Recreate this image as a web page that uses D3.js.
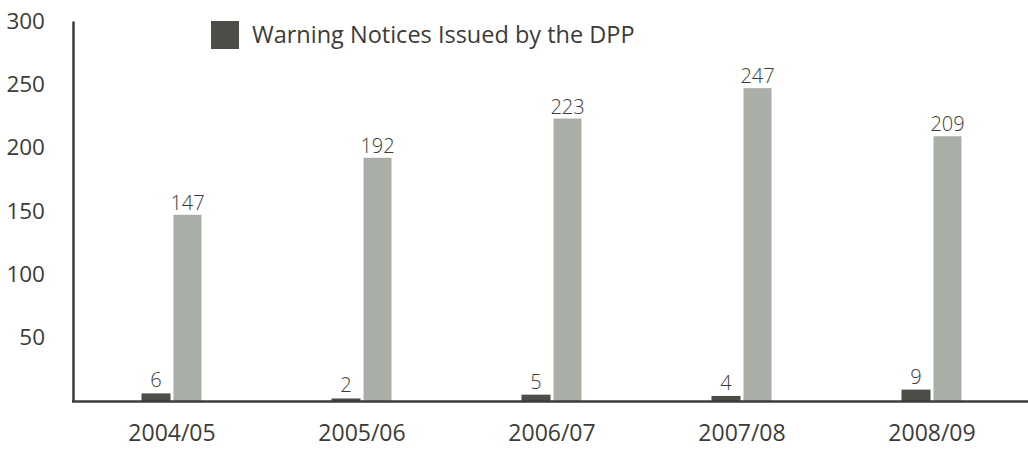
<!DOCTYPE html>
<html><head><meta charset="utf-8">
<script src="https://cdn.jsdelivr.net/npm/d3@7"></script>
<style>
body{margin:0;background:#fff;}
text{font-family:"Open Sans","Noto Sans",sans-serif;fill:#3b3c38;}
</style></head>
<body><svg id="c" width="1028" height="451"></svg>
<script>
const categories = ["2004/05","2005/06","2006/07","2007/08","2008/09"];
const warningNotices = [6,2,5,4,9];
const otherSeries = [147,192,223,247,209];
const yTicks = [50,100,150,200,250,300];
const legendLabel = "Warning Notices Issued by the DPP";

const svg = d3.select("#c");
const x = d3.scaleBand().domain(categories).range([77,1027]);
const y = d3.scaleLinear().domain([0,300]).range([401,21]);
const barW = 29, gap = 3;
const dark = "#4b4d47", light = "#a9aea7";

// bars
const g = svg.append("g");
g.selectAll(".d").data(categories).join("rect")
  .attr("x", d => x(d)+x.bandwidth()/2 - gap/2 - barW)
  .attr("width", barW)
  .attr("y", (d,i) => y(warningNotices[i]))
  .attr("height", (d,i) => y(0)-y(warningNotices[i]))
  .attr("fill", dark);
g.selectAll(".l").data(categories).join("rect")
  .attr("x", d => x(d)+x.bandwidth()/2 + gap/2)
  .attr("width", barW-1)
  .attr("y", (d,i) => y(otherSeries[i]))
  .attr("height", (d,i) => y(0)-y(otherSeries[i]))
  .attr("fill", light);

// value labels
g.selectAll(".dl").data(categories).join("text")
  .attr("x", d => x(d)+x.bandwidth()/2 - gap/2 - barW/2)
  .attr("y", (d,i) => y(warningNotices[i]) - 6)
  .attr("text-anchor","middle").attr("font-size",20).attr("font-weight",300)
  .text((d,i)=>warningNotices[i]);
g.selectAll(".ll").data(categories).join("text")
  .attr("x", d => x(d)+x.bandwidth()/2 + gap/2 + (barW-1)/2)
  .attr("y", (d,i) => y(otherSeries[i]) - 5)
  .attr("text-anchor","middle").attr("font-size",20).attr("font-weight",300)
  .text((d,i)=>otherSeries[i]);

// y axis
const ya = svg.append("g").attr("transform","translate(73,0)")
  .call(d3.axisLeft(y).tickValues(yTicks).tickSize(0).tickPadding(28));
ya.select(".domain").attr("stroke","#3b3c38").attr("stroke-width",2.5);
ya.selectAll("text").attr("font-size",22.5).attr("fill","#3b3c38").style("font-family",'"Open Sans","Noto Sans",sans-serif');

// x axis
const xa = svg.append("g").attr("transform","translate(0,401)")
  .call(d3.axisBottom(x).tickSize(0).tickPadding(24));
xa.select(".domain").attr("d","M72,0.5H1028").attr("stroke","#3b3c38").attr("stroke-width",2.5);
xa.selectAll("text").attr("font-size",23).attr("fill","#3b3c38").style("font-family",'"Open Sans","Noto Sans",sans-serif');

// legend
svg.append("rect").attr("x",211).attr("y",21).attr("width",28).attr("height",28).attr("fill",dark);
svg.append("text").attr("x",252).attr("y",43).attr("font-size",23.5).text(legendLabel);
</script></body></html>
